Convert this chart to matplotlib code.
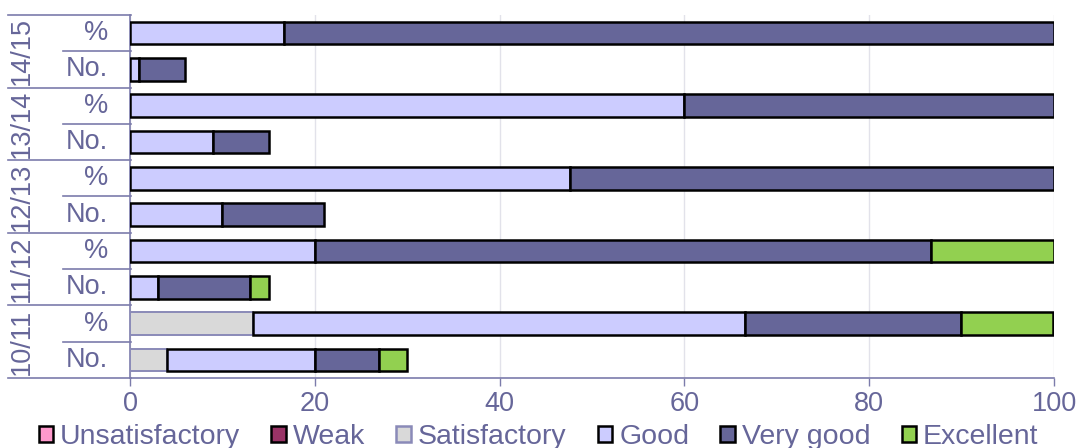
import matplotlib
matplotlib.use('Agg')
import matplotlib.pyplot as plt
import matplotlib.transforms as mtransforms
from matplotlib.patches import Patch
import numpy as np

plt.rcParams['font.family'] = ['Liberation Sans', 'DejaVu Sans']

levels = ['Unsatisfactory', 'Weak', 'Satisfactory', 'Good', 'Very good', 'Excellent']
colors = ['#ff99cc', '#993366', '#d9d9d9', '#ccccff', '#666699', '#92d050']
years = ['14/15', '13/14', '12/13', '11/12', '10/11']
row_kinds = ['%', 'No.']

# percentage of students per level, per year
pct = [
    [0, 0, 0, 16.7, 83.3, 0],
    [0, 0, 0, 60.0, 40.0, 0],
    [0, 0, 0, 47.6, 52.4, 0],
    [0, 0, 0, 20.0, 66.7, 13.3],
    [0, 0, 13.3, 53.3, 23.3, 10.0],
]
# number of students per level, per year
num = [
    [0, 0, 0, 1, 5, 0],
    [0, 0, 0, 9, 6, 0],
    [0, 0, 0, 10, 11, 0],
    [0, 0, 0, 3, 10, 2],
    [0, 0, 4, 16, 7, 3],
]

txt = '#666699'
line_c = '#7c7cab'

W, H = 1077, 448
fig = plt.figure(figsize=(W / 100, H / 100), dpi=100)
ax = fig.add_axes([130 / W, 1 - 378 / H, 924 / W, 363 / H])

rows = []
for p, n in zip(pct, num):
    rows.append(p)
    rows.append(n)
rows = np.array(rows, dtype=float)
y = np.arange(len(rows))

left = np.zeros(len(rows))
for j, lev in enumerate(levels):
    vals = rows[:, j]
    if lev == 'Satisfactory':
        ec, lw = '#8a8ab8', 1.4
    else:
        ec, lw = 'black', 1.8
    mask = vals > 0
    ax.barh(y[mask], vals[mask], left=left[mask], height=0.62,
            color=colors[j], edgecolor=ec, linewidth=lw, zorder=3)
    left += vals

ax.set_xlim(0, 100)
ax.set_ylim(len(rows) - 0.5, -0.5)
ax.set_xticks(np.arange(0, 101, 20))
ax.set_yticks([])
ax.xaxis.grid(True, color='#e2e2ea', linewidth=1, zorder=0)
for s in ['top', 'right']:
    ax.spines[s].set_visible(False)
for s in ['left', 'bottom']:
    ax.spines[s].set_color(line_c)
    ax.spines[s].set_linewidth(1.2)
ax.tick_params(axis='x', colors=line_c, labelcolor=txt, labelsize=19.5,
               length=6, width=1, pad=3)

# category labels on the left
tr = mtransforms.blended_transform_factory(fig.transFigure, ax.transData)
for i, yr in enumerate(years):
    ax.text(22 / W, 2 * i + 0.5, yr, rotation=90, ha='center', va='center',
            fontsize=19.5, color=txt, transform=tr)
    for k, kind in enumerate(row_kinds):
        ax.text(108 / W, 2 * i + k, kind, ha='right', va='center',
                fontsize=19.5, color=txt, transform=tr)
    ax.plot([8 / W, 131 / W], [2 * i - 0.5] * 2, color=line_c, lw=1.2,
            transform=tr, clip_on=False)
    ax.plot([63 / W, 131 / W], [2 * i + 0.5] * 2, color=line_c, lw=1.2,
            transform=tr, clip_on=False)
ax.plot([8 / W, 131 / W], [len(rows) - 0.5] * 2, color=line_c, lw=1.2,
        transform=tr, clip_on=False)

handles = [Patch(facecolor=c, edgecolor='#8a8ab8' if l == 'Satisfactory' else 'black',
                 linewidth=1.8, label=l) for l, c in zip(levels, colors)]
fig.legend(handles=handles, loc='lower center', bbox_to_anchor=(0.5, -0.03),
           ncol=6, frameon=False, fontsize=20.5, labelcolor=txt,
           handlelength=0.5, handleheight=0.5, handletextpad=0.25,
           columnspacing=1.1, borderaxespad=0)

fig.savefig('out.png', dpi=100)
